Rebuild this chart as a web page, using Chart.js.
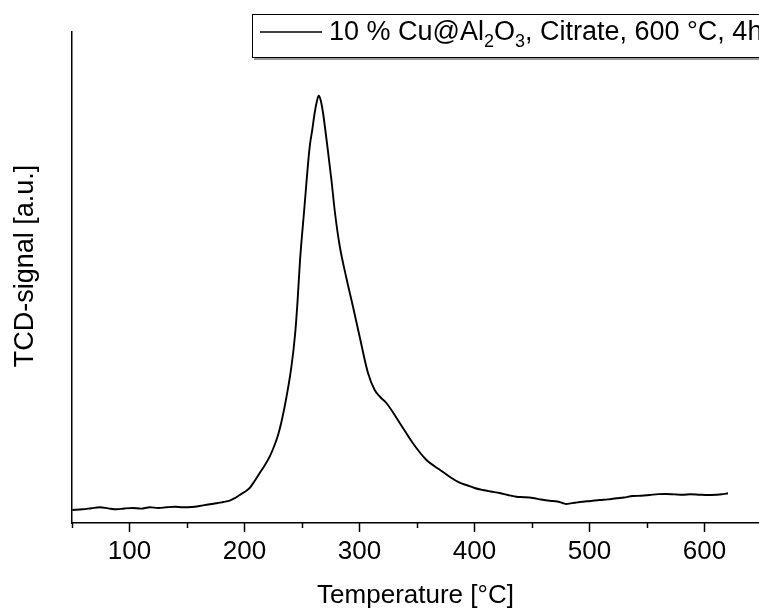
<!DOCTYPE html>
<html>
<head>
<meta charset="utf-8">
<script src="https://cdn.jsdelivr.net/npm/chart.js@4/dist/chart.umd.min.js"></script>
<style>
  html, body { margin: 0; padding: 0; background: #fff; }
  #wrap { width: 759px; height: 608px; }
</style>
</head>
<body>
<div id="wrap"><canvas id="tprChart"></canvas></div>
<script>
// TPR trace: temperature [°C] and TCD signal [a.u.]
const temperature = [50.3, 59.3, 67.0, 74.1, 81.5, 88.6, 95.5, 102.8, 110.0, 117.6, 125.0, 132.1, 139.5, 146.3, 154.0,
  161.0, 168.5, 175.6, 181.5, 187.1, 191.5, 195.8, 200.0, 204.5, 208.8, 213.2, 217.5, 221.9, 226.0, 229.7, 234.9,
  240.8, 244.1, 246.2, 248.3, 251.7, 256.7, 258.9, 261.0, 263.0, 264.5, 266.2, 268.3, 272.1, 275.6, 278.7, 282.8,
  288.6, 294.4, 300.2, 307.4, 313.2, 318.0, 323.4, 335.0, 346.3, 358.2, 365.0, 372.3, 380.0, 387.1, 392.9, 400.0,
  407.1, 414.0, 421.9, 429.0, 436.3, 443.0, 450.5, 458.0, 465.4, 472.0, 476.5, 479.9, 483.5, 487.0, 494.1, 501.0,
  508.9, 516.0, 523.4, 530.0, 537.6, 545.0, 552.3, 560.0, 566.9, 574.0, 581.0, 588.0, 595.8, 603.0, 610.3, 615.0, 620.4];
const tcdSignal = [13.0, 13.7, 14.8, 15.7, 14.6, 13.7, 14.5, 15.0, 14.4, 15.7, 15.0, 15.7, 16.2, 15.7, 16.0,
  17.0, 18.5, 19.7, 21.0, 22.3, 24.8, 28.0, 31.0, 35.0, 42.0, 50.0, 57.5, 66.3, 77.5, 90.0, 116.3,
  156.3, 190.0, 223.0, 263.0, 310.0, 376.3, 393.0, 410.0, 422.0, 427.3, 423.0, 410.0, 376.3, 343.0, 310.0, 277.0,
  245.0, 216.0, 186.0, 150.0, 133.0, 126.0, 120.0, 100.0, 80.0, 63.0, 57.0, 51.3, 45.0, 40.3, 38.0, 35.0,
  33.0, 31.5, 30.0, 28.0, 26.3, 25.8, 25.0, 23.5, 22.3, 21.5, 20.0, 19.0, 19.6, 20.2, 21.3, 22.0,
  23.0, 23.6, 24.7, 25.5, 27.0, 27.2, 28.0, 28.9, 29.0, 28.6, 28.3, 28.8, 28.3, 28.0, 28.3, 28.7, 29.7];

const majorTicks = [100, 200, 300, 400, 500, 600];
const minorTicks = [50, 150, 250, 350, 450, 550, 650];

// legend text, split into normal and subscript runs
const legendParts = [['10 % Cu@Al', false], ['2', true], ['O', false], ['3', true], [', Citrate, 600 °C, 4h', false]];
const yTitle = 'TCD-signal [a.u.]';

const FONT = '"Liberation Sans", Arial, sans-serif';

// tick marks below the x axis: long for labelled ticks, short for minor ones
const tickMarks = {
  id: 'tickMarks',
  afterDraw(chart) {
    const ctx = chart.ctx;
    const xs = chart.scales.x;
    const y0 = chart.chartArea.bottom;
    ctx.save();
    ctx.strokeStyle = '#000';
    ctx.lineWidth = 1.5;
    const mark = (v, len) => {
      const px = Math.round(xs.getPixelForValue(v)) + 0.5;
      if (px < chart.chartArea.left - 1 || px > chart.chartArea.right + 1) return;
      ctx.beginPath();
      ctx.moveTo(px, y0);
      ctx.lineTo(px, y0 + len);
      ctx.stroke();
    };
    majorTicks.forEach(v => mark(v, 9));
    minorTicks.forEach(v => mark(v, 5));
    ctx.restore();
  }
};

// framed legend with subscripts in the formula, plus the rotated y title
const formulaLegend = {
  id: 'formulaLegend',
  afterDraw(chart) {
    const ctx = chart.ctx;
    ctx.save();
    ctx.fillStyle = '#fff';
    ctx.fillRect(253, 15, 520, 43);
    ctx.strokeStyle = '#999';
    ctx.lineWidth = 2;
    ctx.beginPath();
    ctx.moveTo(254, 59);
    ctx.lineTo(760, 59);
    ctx.stroke();
    ctx.strokeStyle = '#000';
    ctx.lineWidth = 1;
    ctx.strokeRect(252.5, 14.5, 520, 43);

    ctx.lineWidth = 1.6;
    ctx.beginPath();
    ctx.moveTo(260, 32);
    ctx.lineTo(322, 32);
    ctx.stroke();

    let x = 329;
    const base = 40;
    ctx.fillStyle = '#000';
    ctx.textBaseline = 'alphabetic';
    legendParts.forEach(([txt, sub]) => {
      ctx.font = (sub ? '18px ' : '27px ') + FONT;
      ctx.fillText(txt, x, sub ? base + 7 : base);
      x += ctx.measureText(txt).width;
    });

    ctx.translate(26, 266);
    ctx.rotate(-Math.PI / 2);
    ctx.font = '27px ' + FONT;
    ctx.textAlign = 'center';
    ctx.textBaseline = 'middle';
    ctx.fillText(yTitle, 0, 0);
    ctx.restore();
  }
};

new Chart(document.getElementById('tprChart'), {
  type: 'line',
  data: {
    datasets: [{
      label: '10 % Cu@Al2O3, Citrate, 600 °C, 4h',
      data: temperature.map((t, i) => ({ x: t, y: tcdSignal[i] })),
      borderColor: '#000',
      borderWidth: 1.9,
      pointRadius: 0,
      fill: false,
      cubicInterpolationMode: 'monotone'
    }]
  },
  options: {
    responsive: true,
    maintainAspectRatio: false,
    animation: false,
    layout: { padding: { top: 32, right: 0, left: 0, bottom: 0 } },
    plugins: {
      legend: { display: false },
      tooltip: { enabled: false }
    },
    scales: {
      x: {
        type: 'linear',
        min: 50,
        max: 647.4,
        afterFit: s => { s.height = 85; },
        afterBuildTicks: s => { s.ticks = majorTicks.map(v => ({ value: v })); },
        grid: { display: true, drawOnChartArea: false, drawTicks: false },
        border: { display: true, color: '#000', width: 1.5 },
        ticks: {
          color: '#000',
          padding: 13,
          maxRotation: 0,
          autoSkip: false,
          font: { family: FONT, size: 26 }
        },
        title: {
          display: true,
          text: 'Temperature [°C]',
          color: '#000',
          padding: { top: 0, bottom: -3 },
          font: { family: FONT, size: 26 }
        }
      },
      y: {
        min: 0,
        max: 491,
        afterFit: s => { s.width = 72; },
        grid: { display: false },
        border: { display: true, color: '#000', width: 1.5 },
        ticks: { display: false },
        title: { display: false }
      }
    }
  },
  plugins: [tickMarks, formulaLegend]
});
</script>
</body>
</html>
